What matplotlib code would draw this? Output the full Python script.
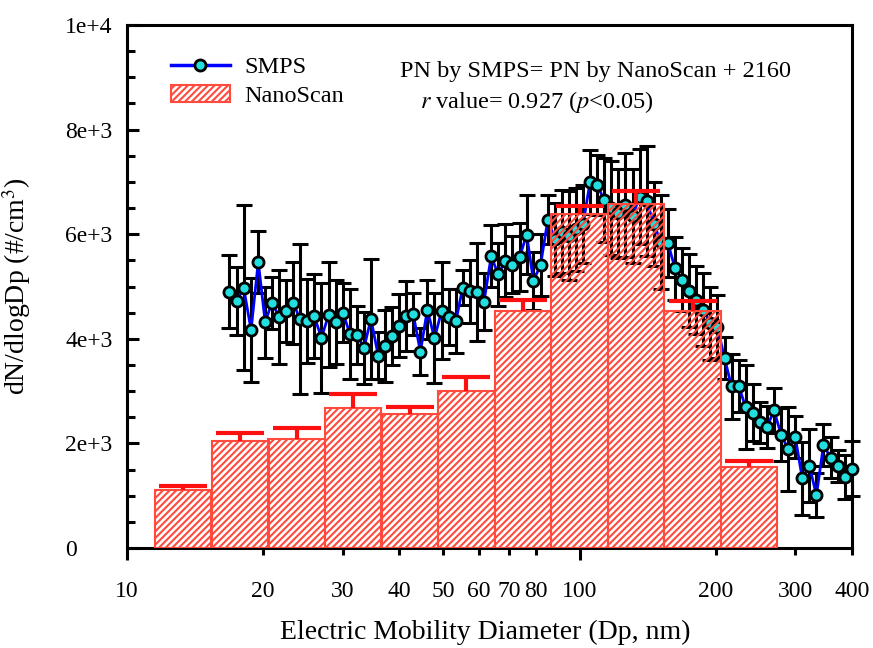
import numpy as np
import matplotlib
matplotlib.use("Agg")
import matplotlib.pyplot as plt
from matplotlib.lines import Line2D
from matplotlib.patches import Patch
from matplotlib.ticker import FixedLocator, FixedFormatter

# SMPS size distribution (64 channels / decade)
smps_dp = [16.8, 17.5, 18.1, 18.8, 19.5, 20.2, 20.9, 21.7, 22.5, 23.3,
           24.1, 25.0, 25.9, 26.9, 27.9, 28.9, 30.0, 31.1, 32.2, 33.4,
           34.6, 35.9, 37.2, 38.5, 40.0, 41.4, 42.9, 44.5, 46.1, 47.8,
           49.6, 51.4, 53.3, 55.2, 57.3, 59.4, 61.5, 63.8, 66.1, 68.5,
           71.0, 73.7, 76.4, 79.1, 82.0, 85.1, 88.2, 91.4, 94.7, 98.2,
           101.8, 105.5, 109.4, 113.4, 117.6, 121.9, 126.3, 131.0, 135.8, 140.7,
           145.9, 151.2, 156.8, 162.5, 168.5, 174.7, 181.1, 187.7, 194.6, 201.7,
           209.1, 216.7, 224.7, 232.9, 241.4, 250.3, 259.5, 269.0, 278.8, 289.0,
           299.6, 310.6, 322.0, 333.8, 346.0, 358.7, 371.8, 385.4, 399.5]
smps_pn = [4900, 4730, 4980, 4170, 5470, 4320, 4690, 4420, 4530, 4690,
           4380, 4340, 4440, 4020, 4460, 4320, 4500, 4090, 4070, 3830,
           4380, 3680, 3870, 4050, 4250, 4440, 4470, 3750, 4560, 4010,
           4540, 4420, 4340, 4980, 4910, 4890, 4710, 5580, 5230, 5490,
           5420, 5560, 5990, 5110, 5410, 6280, 5900, 6050, 5970, 6090,
           6190, 7000, 6940, 6650, 6500, 6400, 6560, 6350, 6720, 6630,
           6200, 5850, 5830, 5350, 5130, 4920, 4740, 4560, 4300, 4230,
           3630, 3090, 3100, 2690, 2590, 2400, 2310, 2630, 2170, 1890,
           2130, 1330, 1570, 1010, 1970, 1730, 1570, 1350, 1520]
smps_err = [700, 650, 1570, 990, 600, 680, 500, 900, 600, 780,
            1430, 800, 800, 1050, 1000, 800, 560, 860, 560, 690,
            1140, 450, 690, 550, 600, 670, 400, 450, 570, 860,
            920, 540, 620, 340, 600, 940, 540, 590, 600, 700,
            550, 650, 750, 550, 600, 470, 700, 800, 850, 800,
            750, 610, 570, 800, 900, 850, 1000, 900, 900, 1050,
            800, 900, 650, 600, 600, 700, 650, 700, 700, 600,
            400, 620, 500, 800, 540, 400, 400, 430, 500, 800,
            400, 700, 700, 420, 400, 400, 300, 420, 520]

# NanoScan channels
nano_dp = [13.3, 17.8, 23.7, 31.6, 42.2, 56.2, 75.0, 100.0, 133.4, 177.8, 237.1]
nano_pn = [1100, 2050, 2080, 2670, 2560, 3010, 4540, 6390, 6570, 4530, 1540]
nano_err = [85, 155, 210, 275, 135, 255, 205, 140, 255, 190, 120]

xticks_major = [10, 100]
xticks_minor = [20, 30, 40, 50, 60, 70, 80, 200, 300, 400]
yticks = [0, 2000, 4000, 6000, 8000, 10000]
ytick_labels = ["0", "2e+3", "4e+3", "6e+3", "8e+3", "1e+4"]

red = "#ff4a3d"
plt.rcParams["font.family"] = "Liberation Serif"
plt.rcParams["mathtext.fontset"] = "stix"
plt.rcParams["hatch.linewidth"] = 1.5
plt.rcParams["hatch.color"] = red

fig = plt.figure(figsize=(8.73, 6.48), dpi=100)
ax = fig.add_axes([127 / 873, 100 / 648, 725 / 873, 523 / 648])

# SMPS: error bars, line and markers
ax.errorbar(smps_dp, smps_pn, yerr=smps_err, fmt="none", ecolor="black",
            elinewidth=2.2, capsize=5.8, capthick=2.2, zorder=2, clip_on=False)
ax.plot(smps_dp, smps_pn, color="#0000ff", lw=2, marker="o", ms=8,
        mfc="#22dede", mec="black", mew=2, zorder=3, clip_on=False)

# NanoScan: hatched bars spanning each channel, upper error only
dp = np.array(nano_dp)
half = 10 ** (1 / 16)
left = dp / half
ax.bar(left, nano_pn, width=dp * half - left, align="edge", facecolor="none",
       edgecolor=red, hatch="/////", lw=1.5, zorder=4)
_, caps, _ = ax.errorbar(nano_dp, nano_pn, yerr=[np.zeros(len(nano_err)), nano_err],
                         fmt="none", ecolor="#ff1010", elinewidth=3, capsize=17,
                         capthick=3, zorder=5)
caps[0].set_visible(False)

ax.set_xscale("log")
ax.set_xlim(10, 400)
ax.set_ylim(0, 10000)
ax.xaxis.set_major_locator(FixedLocator(xticks_major))
ax.xaxis.set_major_formatter(FixedFormatter([str(v) for v in xticks_major]))
ax.xaxis.set_minor_locator(FixedLocator(xticks_minor))
ax.xaxis.set_minor_formatter(FixedFormatter([str(v) for v in xticks_minor]))
ax.set_yticks(yticks)
ax.set_yticklabels(ytick_labels)
ax.yaxis.set_minor_locator(FixedLocator(np.arange(500, 10000, 500)))

ax.tick_params(axis="x", which="major", direction="out", length=8.6, width=2.2,
               pad=15, labelsize=17)
ax.tick_params(axis="x", which="minor", direction="out", length=5.3, width=2.2,
               pad=18.3, labelsize=17)
ax.tick_params(axis="y", which="major", direction="in", length=8.6, width=2.2,
               pad=44.6, labelsize=17)
ax.tick_params(axis="y", which="minor", direction="in", length=5.8, width=2.2)
for lab in ax.get_yticklabels():
    lab.set_horizontalalignment("left")
for sp in ax.spines.values():
    sp.set_linewidth(2.2)

ax.set_xlabel("Electric Mobility Diameter (Dp, nm)", fontsize=20)
ax.xaxis.set_label_coords(0.494, -0.1377)
ax.set_ylabel(r"dN/dlogDp (#/cm$^3$)", fontsize=20)
ax.yaxis.set_label_coords(-0.13, 0.5)

handles = [Line2D([], [], color="#0000ff", lw=2.5, marker="o", ms=8,
                  mfc="#22dede", mec="black", mew=2),
           Patch(facecolor="none", edgecolor=red, hatch="/////", lw=1.5)]
ax.legend(handles, ["SMPS", "NanoScan"], loc="upper left",
          bbox_to_anchor=(0.061, 0.94), frameon=False, fontsize=17.5,
          handlelength=2.4, handletextpad=0.62, borderpad=0, borderaxespad=0,
          labelspacing=0.28)

fig.text(400 / 873, 1 - 72 / 648, "PN by SMPS= PN by NanoScan + 2160",
         fontsize=17.5, va="center", ha="left")
fig.text(420 / 873, 1 - 102 / 648, r"$\it{r}$ value= 0.927 ($\it{p}$<0.05)",
         fontsize=17.5, va="center", ha="left")

fig.savefig("out.png", dpi=100)
